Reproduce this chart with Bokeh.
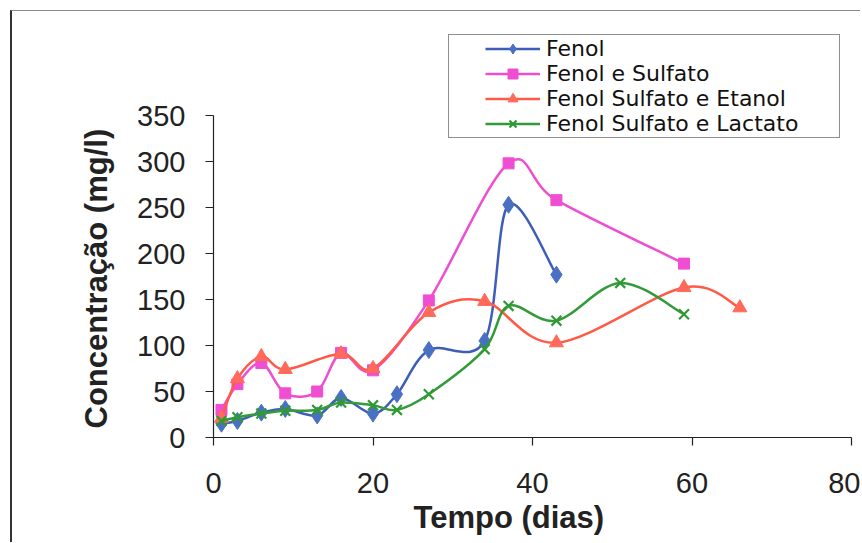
from bokeh.plotting import figure
from bokeh.models import FixedTicker, Legend, LegendItem, ColumnDataSource, Title
from bokeh.embed import file_html
from bokeh.resources import INLINE

# ---- data ----
dias_fenol = [1, 3, 6, 9, 13, 16, 20, 23, 27, 34, 37, 43]
fenol = [15, 18, 27, 31, 24, 43, 26, 47, 95, 105, 253, 177]
dias_sulfato = [1, 3, 6, 9, 13, 16, 20, 27, 37, 43, 59]
sulfato = [30, 58, 81, 48, 50, 92, 73, 149, 298, 258, 189]
dias_etanol = [1, 3, 6, 9, 16, 20, 27, 34, 43, 59, 66]
etanol = [21, 64, 88, 74, 91, 75, 136, 148, 103, 163, 141]
dias_lactato = [1, 3, 6, 9, 13, 16, 20, 23, 27, 34, 37, 43, 51, 59]
lactato = [18, 22, 26, 29, 30, 38, 35, 30, 47, 96, 143, 127, 168, 134]

series_names = ["Fenol", "Fenol e Sulfato", "Fenol Sulfato e Etanol", "Fenol Sulfato e Lactato"]
x_ticks = [0, 20, 40, 60, 80]
y_ticks = [0, 50, 100, 150, 200, 250, 300, 350]
x_title = "Tempo (dias)"
y_title = "Concentração (mg/l)"

FONT = "Liberation Sans"


def smooth_source(xs, ys):
    """Excel-like smoothed line: cubic Bezier segments with Catmull-Rom control points."""
    n = len(xs)
    d = dict(x0=[], y0=[], x1=[], y1=[], cx0=[], cy0=[], cx1=[], cy1=[])
    for i in range(n - 1):
        p = max(i - 1, 0)
        q = min(i + 2, n - 1)
        d["x0"].append(xs[i]); d["y0"].append(ys[i])
        d["x1"].append(xs[i + 1]); d["y1"].append(ys[i + 1])
        d["cx0"].append(xs[i] + (xs[i + 1] - xs[p]) / 6)
        d["cy0"].append(ys[i] + (ys[i + 1] - ys[p]) / 6)
        d["cx1"].append(xs[i + 1] - (xs[q] - xs[i]) / 6)
        d["cy1"].append(ys[i + 1] - (ys[q] - ys[i]) / 6)
    return ColumnDataSource(d)


# canvas sits inside a page frame (border at left/top, offset by CSS)
W, H = 850, 532
FRAME_W, FRAME_H = 649, 426
X_END = 80 * FRAME_W / 638.0      # 80 days span 638 px
Y_END = 350 * FRAME_H / 322.0     # 350 mg/l span 322 px

p = figure(width=W, height=H, output_backend="svg", toolbar_location=None,
           x_range=(0, X_END), y_range=(0, Y_END),
           min_border_left=W - FRAME_W, min_border_right=0, min_border_top=0,
           min_border_bottom=H - FRAME_H,
           styles={"margin-left": "10px", "margin-top": "10px",
                   "border-left": "2px solid #333333", "border-top": "1px solid #8a8a8a"})
p.outline_line_color = None
p.xgrid.visible = False
p.ygrid.visible = False
p.background_fill_color = "white"
p.border_fill_color = "white"

for ax in (p.xaxis, p.yaxis):
    ax.axis_line_color = "#222222"
    ax.axis_line_width = 1.2
    ax.major_tick_line_color = "#222222"
    ax.major_tick_line_width = 1.2
    ax.major_tick_out = 8
    ax.major_tick_in = 0
    ax.minor_tick_line_color = None
    ax.major_label_text_font = FONT
    ax.major_label_text_font_size = "29px"
    ax.major_label_text_color = "#222222"

p.xaxis.ticker = FixedTicker(ticks=x_ticks)
p.yaxis.ticker = FixedTicker(ticks=y_ticks)
p.xaxis.bounds = (0, 80)
p.yaxis.bounds = (0, 350)
p.xaxis.major_label_standoff = 27
p.yaxis.major_label_standoff = 20

# axis titles (placed like the reference: slightly off-centre)
t_x = Title(text=x_title, align="left", offset=200, standoff=9, vertical_align="top",
            text_font=FONT, text_font_size="31px", text_font_style="bold", text_color="#222222")
p.add_layout(t_x, "below")
t_y = Title(text=y_title, align="left", offset=9, standoff=42, vertical_align="bottom",
            text_font=FONT, text_font_size="31px", text_font_style="bold", text_color="#222222")
p.add_layout(t_y, "left")

styles = [
    (dias_fenol, fenol, "#3d5db8", "diamond", "#4a70c4", 17),
    (dias_sulfato, sulfato, "#ee4fd0", "square", "#f04ed2", 11),
    (dias_etanol, etanol, "#ff5a48", "triangle", "#ff6a5a", 14),
    (dias_lactato, lactato, "#339a3a", "x", "#2f9a35", 14),
]

items = []
for name, (xs, ys, lc, marker, mc, ms) in zip(series_names, styles):
    src = smooth_source(xs, ys)
    r_line = p.bezier(x0="x0", y0="y0", x1="x1", y1="y1", cx0="cx0", cy0="cy0",
                      cx1="cx1", cy1="cy1", source=src, line_color=lc, line_width=2.5)
    if marker == "x":
        r_mark = p.scatter(xs, ys, marker="x", size=ms, line_color=mc, line_width=2.2)
    else:
        r_mark = p.scatter(xs, ys, marker=marker, size=ms, fill_color=mc, line_color=mc, line_width=1)
    items.append(LegendItem(label=name, renderers=[r_line, r_mark]))

legend = Legend(items=items, location=(235, 299))
legend.title = " "
legend.title_location = "left"
legend.title_text_font = FONT
legend.title_text_font_size = "24px"
legend.title_standoff = 7
legend.label_text_font = "DejaVu Sans"
legend.label_text_font_size = "22px"
legend.label_text_color = "#111111"
legend.glyph_width = 55
legend.glyph_height = 25
legend.label_height = 20
legend.label_standoff = 6
legend.label_width = 292
legend.spacing = 0
legend.padding = 1
legend.margin = 0
legend.border_line_color = "#222222"
legend.border_line_width = 1.3
legend.background_fill_color = "white"
legend.background_fill_alpha = 1
p.add_layout(legend, "center")

open("out.html", "w").write(file_html(p, INLINE))
